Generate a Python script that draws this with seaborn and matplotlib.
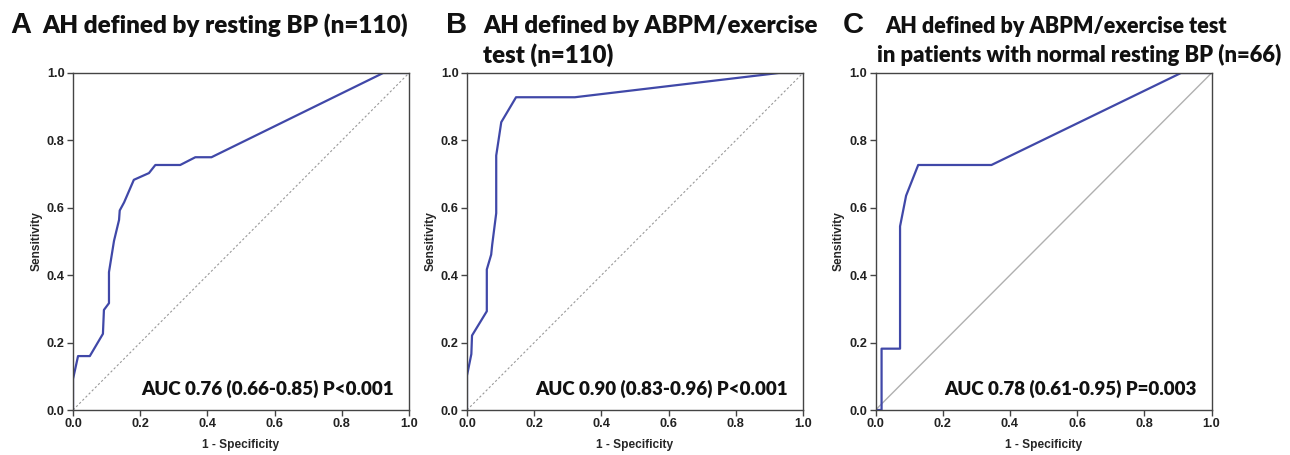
import matplotlib
matplotlib.use("Agg")
import matplotlib.pyplot as plt
import seaborn as sns
import pandas as pd

# ROC curve points (1 - specificity, sensitivity)
fpr_a = [0.0, 0.0, 0.015, 0.05, 0.089, 0.092, 0.107, 0.107, 0.122, 0.137, 0.139,
         0.152, 0.181, 0.226, 0.245, 0.319, 0.364, 0.412, 0.923, 1.0]
tpr_a = [0.0, 0.092, 0.160, 0.160, 0.226, 0.297, 0.317, 0.409, 0.502, 0.564, 0.592,
         0.616, 0.683, 0.703, 0.727, 0.727, 0.750, 0.750, 1.0, 1.0]

fpr_b = [0.0, 0.0, 0.013, 0.015, 0.059, 0.059, 0.072, 0.075, 0.087, 0.087, 0.102,
         0.146, 0.321, 0.928, 1.0]
tpr_b = [0.0, 0.102, 0.166, 0.221, 0.293, 0.417, 0.461, 0.490, 0.584, 0.755, 0.854,
         0.928, 0.928, 1.0, 1.0]

fpr_c = [0.0, 0.018, 0.018, 0.073, 0.073, 0.091, 0.127, 0.345, 0.909, 1.0]
tpr_c = [0.0, 0.0, 0.182, 0.182, 0.545, 0.636, 0.727, 0.727, 1.0, 1.0]

letters = ["A", "B", "C"]
titles = ["AH defined by resting BP (n=110)",
          "AH defined by ABPM/exercise\ntest (n=110)",
          "AH defined by ABPM/exercise test\nin patients with normal resting BP (n=66)"]
auc_texts = ["AUC 0.76 (0.66-0.85) P<0.001",
             "AUC 0.90 (0.83-0.96) P<0.001",
             "AUC 0.78 (0.61-0.95) P=0.003"]
ticks = [0.0, 0.2, 0.4, 0.6, 0.8, 1.0]
tick_labels = ["0.0", "0.2", "0.4", "0.6", "0.8", "1.0"]

sns.set_theme(style="white")
plt.rcParams['font.family'] = ['Liberation Sans', 'DejaVu Sans']

curve_color = "#4048a8"
title_font = "Lato"
title_weight = "heavy"
ink = "#111111"

fig = plt.figure(figsize=(12.9, 4.55), dpi=100)
lefts = [0.0566, 0.3620, 0.6787]
axes = [fig.add_axes([l, 0.0989, 0.2605, 0.7407]) for l in lefts]

curves = [(fpr_a, tpr_a), (fpr_b, tpr_b), (fpr_c, tpr_c)]
for i, ax in enumerate(axes):
    fpr, tpr = curves[i]
    df = pd.DataFrame({"fpr": fpr, "tpr": tpr})
    # reference line
    ref = pd.DataFrame({"x": [0, 1], "y": [0, 1]})
    if i < 2:
        sns.lineplot(data=ref, x="x", y="y", ax=ax, color="#999999", lw=0.8,
                     linestyle=(0, (2, 2)))
    else:
        sns.lineplot(data=ref, x="x", y="y", ax=ax, color="#b0b0b0", lw=1.0)
    sns.lineplot(data=df, x="fpr", y="tpr", ax=ax, sort=False, estimator=None,
                 color=curve_color, lw=1.6)

    ax.set_xlim(0, 1)
    ax.set_ylim(0, 1)
    ax.set_xticks(ticks)
    ax.set_yticks(ticks)
    ax.set_xticklabels(tick_labels, fontsize=9.2, fontweight="bold", color="#222222")
    ax.set_yticklabels(tick_labels, fontsize=9.2, fontweight="bold", color="#222222")
    ax.tick_params(axis="both", which="both", direction="out", length=4, width=1,
                   color="#444444", pad=2, bottom=True, left=True)
    for sp in ax.spines.values():
        sp.set_color("#444444")
        sp.set_linewidth(1.0)
    ax.set_xlabel("1 - Specificity", fontsize=8.6, fontweight="bold", labelpad=6)
    ax.set_ylabel("Sensitivity", fontsize=8.6, fontweight="bold", labelpad=3)

    ax.text(0.955, 0.035, auc_texts[i], transform=ax.transAxes, ha="right", va="bottom",
            fontsize=13.5, fontweight=title_weight, family=title_font, color=ink)

# panel letters and titles
fig.text(10 / 1290, 1 - 33 / 455, "A", fontsize=21, fontweight="bold", ha="left",
         va="baseline", color=ink)
fig.text(42 / 1290, 1 - 33 / 455, titles[0], fontsize=17.5, fontweight=title_weight,
         family=title_font, ha="left", va="baseline", color=ink)

fig.text(446 / 1290, 1 - 33 / 455, "B", fontsize=21, fontweight="bold", ha="left",
         va="baseline", color=ink)
fig.text(483 / 1290, 1 - 33 / 455, titles[1].split("\n")[0], fontsize=17.3,
         fontweight=title_weight, family=title_font, ha="left", va="baseline", color=ink)
fig.text(483 / 1290, 1 - 63 / 455, titles[1].split("\n")[1], fontsize=17.3,
         fontweight=title_weight, family=title_font, ha="left", va="baseline", color=ink)

fig.text(843 / 1290, 1 - 33 / 455, "C", fontsize=21, fontweight="bold", ha="left",
         va="baseline", color=ink)
fig.text(885 / 1290, 1 - 33 / 455, titles[2].split("\n")[0], fontsize=15.5,
         fontweight=title_weight, family=title_font, ha="left", va="baseline", color=ink)
fig.text(877 / 1290, 1 - 62 / 455, titles[2].split("\n")[1], fontsize=15.8,
         fontweight=title_weight, family=title_font, ha="left", va="baseline", color=ink)

fig.savefig("out.png", dpi=100, facecolor="white")
